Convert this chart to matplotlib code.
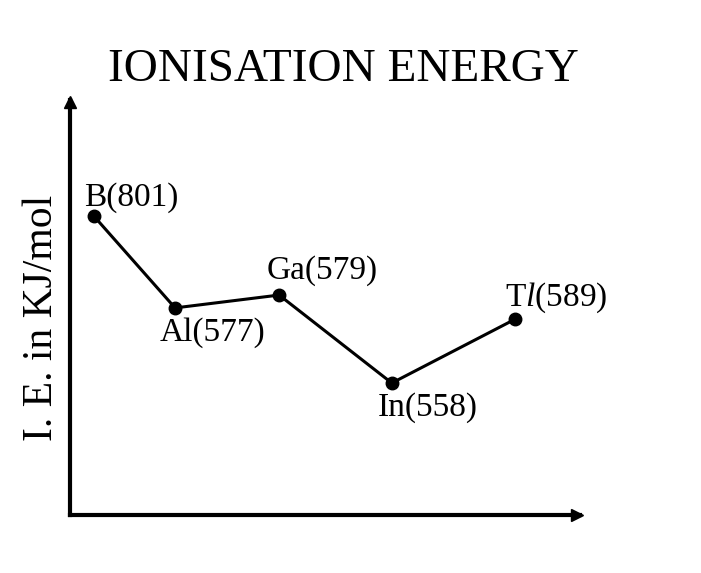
import matplotlib
matplotlib.use("Agg")
import matplotlib.pyplot as plt

plt.rcParams['font.family'] = ['Liberation Serif', 'DejaVu Serif']
plt.rcParams['mathtext.fontset'] = 'custom'
plt.rcParams['mathtext.rm'] = 'Liberation Serif'
plt.rcParams['mathtext.it'] = 'Liberation Serif:italic'

# elements and their ionisation energies (kJ/mol)
labels = ['B(801)', 'Al(577)', 'Ga(579)', 'In(558)', 'T$\\it{l}$(589)']
# schematic positions as drawn in the picture (arbitrary units)
x_pos = [0.47, 2.06, 4.10, 6.31, 8.73]
y_pos = [7.20, 4.99, 5.30, 3.18, 4.72]
# label offsets in pixels relative to each point
offsets = [(37, 19), (37, -25), (43, 24), (36, -25), (41, 21)]

fig = plt.figure(figsize=(7.01, 5.73), dpi=100)
ax = fig.add_axes([70 / 701, 58 / 573, 510 / 701, 415 / 573])
ax.set_xlim(0, 10)
ax.set_ylim(0, 10)

for s in ['top', 'right']:
    ax.spines[s].set_visible(False)
for s in ['left', 'bottom']:
    ax.spines[s].set_linewidth(3)
ax.set_xticks([])
ax.set_yticks([])

# arrow heads on axes
ax.plot(0.995, 0, '>', color='black', markersize=9, transform=ax.transAxes, clip_on=False)
ax.plot(0, 0.995, '^', color='black', markersize=9, transform=ax.transAxes, clip_on=False)

ax.plot(x_pos, y_pos, '-o', color='black', linewidth=2.2, markersize=9)

for lab, x, y, off in zip(labels, x_pos, y_pos, offsets):
    ax.annotate(lab, (x, y), xytext=off, textcoords='offset pixels',
                ha='center', va='center', fontsize=24)

fig.text(343 / 701, 1 - 70 / 573, 'IONISATION ENERGY', ha='center', va='center', fontsize=34)
fig.text(42 / 701, 1 - 318 / 573, 'I. E. in KJ/mol', ha='center', va='center',
         rotation=90, fontsize=30)

fig.savefig('out.png', dpi=100)
